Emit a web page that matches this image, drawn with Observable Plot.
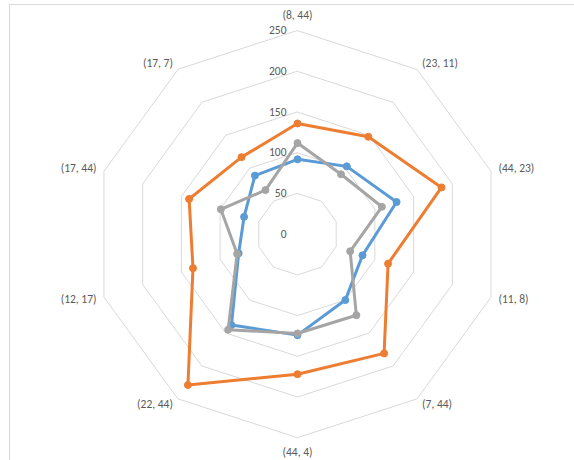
<!DOCTYPE html>
<html>
<head>
<meta charset="utf-8">
<script src="https://cdn.jsdelivr.net/npm/d3@7"></script>
<script src="https://cdn.jsdelivr.net/npm/@observablehq/plot@0.6"></script>
<style>
  html, body { margin: 0; padding: 0; background: #fff; overflow: hidden; }
  #frame { position: absolute; left: 9px; top: 4px; width: 700px; height: 600px;
           border-left: 1px solid #d9d9d9; border-top: 1px solid #d9d9d9; }
  #chart { position: absolute; left: 0; top: 0; }
</style>
</head>
<body>
<div id="frame"></div>
<div id="chart"></div>
<script>
const categories = ["(8, 44)", "(23, 11)", "(44, 23)", "(11, 8)", "(7, 44)",
                    "(44, 4)", "(22, 44)", "(12, 17)", "(17, 44)", "(17, 7)"];
const series1 = [92, 103, 128, 84, 100, 124, 138, 76, 69, 89];      // blue
const series2 = [136, 148, 186, 117, 181, 172, 229, 135, 140, 117]; // orange
const series3 = [112, 91, 109, 68, 123, 122, 145, 78, 99, 67];      // gray
const ticks = [0, 50, 100, 150, 200, 250];
const rMax = 250;

const colors = {s1: "#5B9BD5", s2: "#ED7D31", s3: "#A5A5A5"};
const n = categories.length;
const ang = i => i * 2 * Math.PI / n;
const pxPerUnit = 0.814;

function polar(series, values) {
  return values.map((v, i) => ({series, i, v, x: v * Math.sin(ang(i)), y: v * Math.cos(ang(i))}));
}
const grid = ticks.filter(t => t > 0).flatMap(t =>
  categories.map((c, i) => ({t, x: t * Math.sin(ang(i)), y: t * Math.cos(ang(i))})));

const pts = [...polar("s1", series1), ...polar("s2", series2), ...polar("s3", series3)];

const labels = categories.map((c, i) => {
  const s = Math.sin(ang(i)), co = Math.cos(ang(i));
  let ox = 0, oy;
  if (Math.abs(s) < 1e-6) { oy = -co * 15; }
  else { ox = Math.sign(s) * (Math.abs(s) > 0.9 ? 7.5 : 5); oy = -co * 7.5 - 0.5; }
  return {text: c, side: Math.abs(s) < 1e-6 ? "middle" : (s > 0 ? "start" : "end"),
          x: rMax * s + ox / pxPerUnit, y: rMax * co - oy / pxPerUnit};
});

const font = "Carlito, Calibri, Lato, sans-serif";
const lineOpts = s => ({x: "x", y: "y", curve: "linear-closed", stroke: colors[s], strokeWidth: 3, strokeLinejoin: "round"});

const chart = Plot.plot({
  width: 574, height: 460,
  margin: 0,
  x: {domain: [-297 / pxPerUnit, 277 / pxPerUnit], axis: null},
  y: {domain: [-226.3 / pxPerUnit, 233.7 / pxPerUnit], axis: null},
  style: {fontFamily: font, fontSize: "11.5px", background: "transparent"},
  marks: [
    Plot.line(grid, {x: "x", y: "y", z: "t", curve: "linear-closed", stroke: "#d9d9d9", strokeWidth: 1}),
    Plot.text(ticks, {x: 0, y: d => d, text: d => String(d), textAnchor: "end", dx: -11, fill: "#595959"}),
    ...["s1", "s2", "s3"].flatMap(s => [
      Plot.line(pts.filter(d => d.series === s), lineOpts(s)),
      Plot.dot(pts.filter(d => d.series === s), {x: "x", y: "y", r: 3.5, fill: colors[s], stroke: colors[s], strokeWidth: 1})
    ]),
    ...["middle", "start", "end"].map(a =>
      Plot.text(labels.filter(d => d.side === a), {x: "x", y: "y", text: "text", textAnchor: a, fill: "#595959"}))
  ]
});
document.getElementById("chart").appendChild(chart);
</script>
</body>
</html>
